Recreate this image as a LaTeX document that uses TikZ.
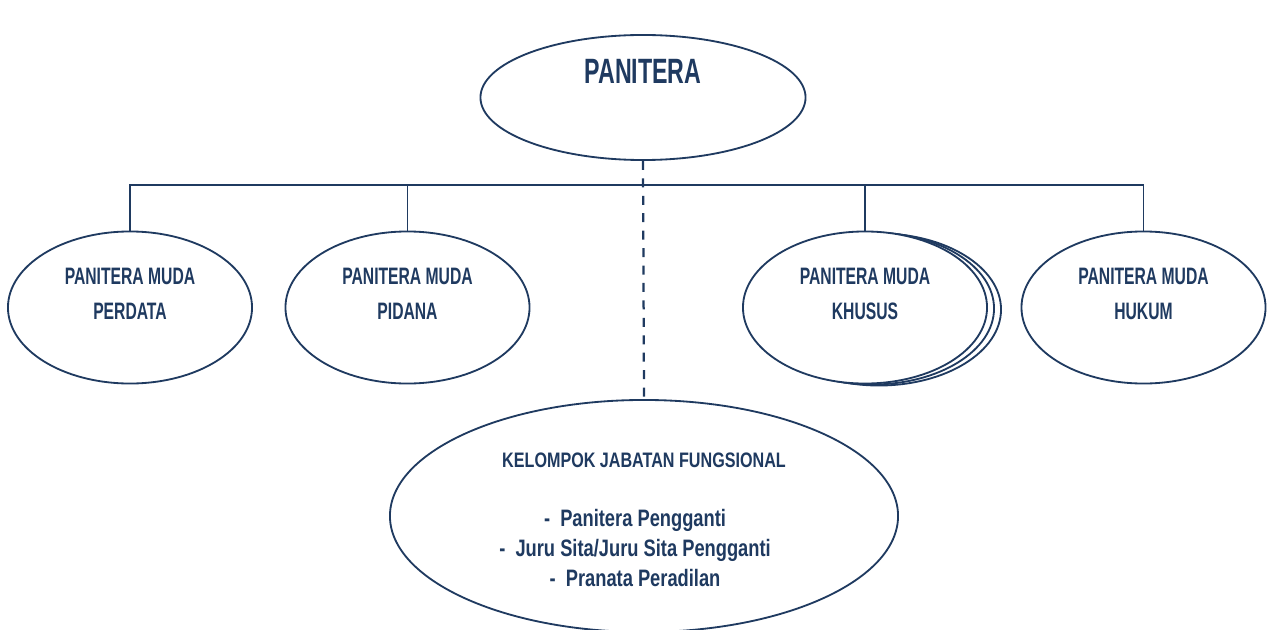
\documentclass[tikz,border=0pt]{standalone}
\usepackage{fontspec}
\setmainfont{Liberation Sans}[FakeStretch=0.66]
\newfontfamily\listfont{Liberation Sans}[FakeStretch=0.77]
\usetikzlibrary{shapes.geometric}
\definecolor{navy}{HTML}{1F3A60}

\begin{document}
\begin{tikzpicture}[x=0.025cm,y=-0.025cm,
  unit/.style={ellipse,draw=navy,line width=1.3pt,fill=white,inner sep=0pt,
    minimum width=6.1cm,minimum height=3.8cm},
  title/.style={text=navy,align=center,anchor=base,
    font=\fontsize{16.9}{24.9}\selectfont\bfseries},
  link/.style={draw=navy,line width=1.1pt}]

\useasboundingbox (0,0) rectangle (1267,630);

% kepala
\node[unit,minimum width=8.125cm,minimum height=3.125cm] (panitera) at (643,97.5) {};
\node[title,font=\fontsize{25}{30}\selectfont\bfseries] (paniteraT) at (643,84) {PANITERA};

% panitera muda
\node[unit] (perdata) at (130,307.5) {};
\node[title] (perdataT) at (130,319.5) {PANITERA MUDA\\PERDATA};
\node[unit] (pidana) at (407.5,307.5) {};
\node[title] (pidanaT) at (407.5,319.5) {PANITERA MUDA\\PIDANA};
\node[unit] (khususC) at (879,309.5) {};
\node[unit] (khususB) at (872,308.5) {};
\node[unit] (khusus) at (865,307.5) {};
\node[title] (khususT) at (865,319.5) {PANITERA MUDA\\KHUSUS};
\node[unit] (hukum) at (1143.5,307.5) {};
\node[title] (hukumT) at (1143.5,319.5) {PANITERA MUDA\\HUKUM};

% fungsional
\node[unit,minimum width=12.7cm,minimum height=5.8cm] (fungsional) at (644,516) {};
\node[title,font=\listfont\fontsize{14.9}{20}\selectfont\bfseries] (fungsionalT) at (644,467)
  {KELOMPOK JABATAN FUNGSIONAL};
\node[title,font=\listfont\fontsize{16.9}{21.3}\selectfont\bfseries] (fungsionalL) at (635,586)
  {-~~Panitera Pengganti\\-~~Juru Sita/Juru Sita Pengganti\\-~~Pranata Peradilan};

% garis
\coordinate (bar) at (643,185);
\draw[link] (perdata.north) -- (perdata.north |- bar) -- (hukum.north |- bar) -- (hukum.north);
\draw[link] (pidana.north) -- (pidana.north |- bar);
\draw[link] (khusus.north) -- (khusus.north |- bar);
\draw[navy,line width=1.6pt,dash pattern=on 6.4pt off 6pt] (panitera.south) -- (fungsional.north);
\end{tikzpicture}
\end{document}
